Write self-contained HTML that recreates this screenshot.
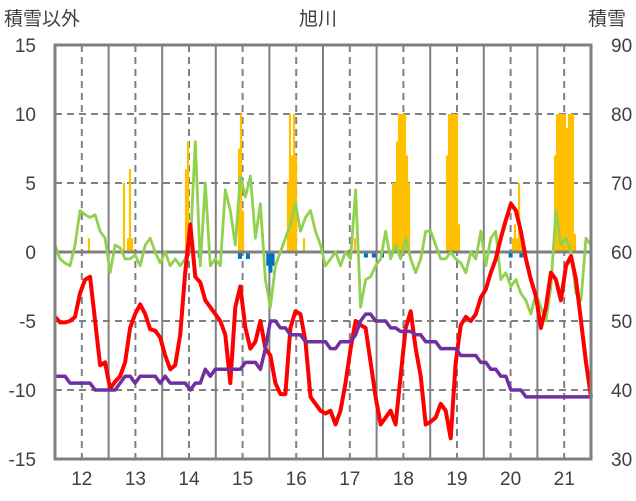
<!DOCTYPE html>
<html><head><meta charset="utf-8"><style>
body{margin:0;background:#fff}
svg{display:block;font-family:"Liberation Sans","Noto Sans CJK JP",sans-serif}
</style></head><body>
<svg id="c" width="636" height="501"></svg>
<script>
const dayLabels=["12","13","14","15","16","17","18","19","20","21"];
const leftTicks=[15,10,5,0,-5,-10,-15];
const rightTicks=[90,80,70,60,50,40,30];
const redV=[-4.7,-5.1,-5.1,-5.0,-4.7,-3,-2,-1.8,-5,-8.2,-8,-9.9,-9.4,-9,-8,-5.5,-4.5,-3.8,-4.5,-5.6,-5.7,-6.2,-7.5,-8.5,-8.2,-6,-1.5,2,-1.8,-2.2,-3.5,-4,-4.5,-5,-6,-9.5,-4,-2.5,-5.5,-7,-6.5,-5,-7,-7.5,-9.5,-10.3,-10.3,-5.5,-4.3,-4.5,-6.5,-10.5,-11,-11.5,-11.7,-11.5,-12.5,-11.5,-9.5,-7,-5,-5.3,-5.5,-8,-10.5,-12.5,-12,-11.5,-12.5,-9,-5.5,-4.3,-7,-9,-12.5,-12.3,-12,-11,-11.5,-13.5,-8,-5.3,-4.7,-5,-4.5,-3.3,-2.7,-1.5,-0.5,1,2.3,3.5,3,1.5,-0.5,-2,-3.2,-5.5,-4,-1.5,-2,-3.5,-1,-0.3,-2,-5,-8,-10.5];
const greenV=[0.5,-0.5,-0.8,-1,0.5,3,2.7,2.5,2.7,1.5,1,-1.5,0.5,0.3,-0.5,-0.5,-0.2,-1,0.5,1,0,-0.8,0,-1,-0.5,-1,-0.5,0.5,8,-1,5,-1,-0.5,-1,4.5,3,0.5,5.5,4,5.5,1,3.5,-2,-4,-1,0,1,2,3.5,1.5,2.5,3,1.5,0.5,-1,-0.5,0,-1,0,-0.5,4.5,-4,-2,-1.8,-1,-0.5,1.5,-0.5,0.5,-0.5,1,-0.5,-1.5,-0.5,1.5,1.5,0.5,-0.5,-0.5,0,-0.5,-0.8,-1.5,0,-0.5,1.5,-1,1,1.5,-2,-1.5,-2.5,-2,-3,-3.5,-4.5,-3,-4,-5,-2.5,3,0.5,1,0,-3,-3.5,1,0.5];
const purpleV=[42,42,42,41,41,41,41,41,40,40,40,40,40,41,42,42,41,42,42,42,42,41,42,41,41,41,41,40,41,41,43,42,43,43,43,43,43,43,44,44,44,43,46,50,50,49,49,48,48,48,47,47,47,47,47,46,46,47,47,47,48,50,51,51,50,50,50,49,49,48.5,48.5,48.5,48,48,47,47,47,46,46,46,46,45,45,45,45,44,44,43,43,42,42,40,40,40,39,39,39,39,39,39,39,39,39,39,39,39,39,39];
const orangeT=[12.134,12.787,12.862,12.899,12.937,13.944,13.981,14.019,14.933,14.970,15.008,15.847,15.884,15.922,15.959,15.996,16.146,17.097,17.806,17.843,17.881,17.918,17.955,17.993,18.030,18.067,18.105,18.814,18.851,18.888,18.926,18.963,19.000,19.037,20.045,20.082,20.120,20.157,20.194,20.829,20.866,20.903,20.940,20.978,21.015,21.052,21.090,21.127,21.164,21.201];
const orangeV=[1,5,1,6,1,6,8,1,7.5,10,3,5,10,7,10,7,1,1,5,5,8,10,10,10,10,7,5,7,10,10,10,10,10,2,1,2,1,5,1,7,10,10,10,10,10,9,10,10,10,1.3];
const blueT=[14.2,14.95,15.1,15.48,15.52,15.56,17.3,17.45,17.6,20.0,20.2];
const blueV=[-0.4,-0.5,-0.5,-1,-1.5,-1,-0.4,-0.4,-0.4,-0.4,-0.4];

const L=55,R=591,T=45,B=459;
const t0=11.5,t1=21.5;
const xs=t=>L+(t-t0)/(t1-t0)*(R-L);
const yl=v=>B-(v+15)/30*(B-T);
const yr=v=>B-(v-30)/60*(B-T);
const step=(t1-t0)/107;
const ns="http://www.w3.org/2000/svg";
const svg=document.getElementById('c');
function mk(tag,at,parent){const e=document.createElementNS(ns,tag);for(const k in at)e.setAttribute(k,at[k]);(parent||svg).appendChild(e);return e;}
// grid
for(let i=0;i<leftTicks.length;i++){const v=leftTicks[i];if(v===15||v===-15||v===0)continue;
 const g=mk('line',{x1:L,x2:R,y1:yl(v),y2:yl(v),stroke:'#808080','stroke-width':2,'stroke-dasharray':'7,5'});
 
 }
for(let d=0;d<=10;d++){const x=xs(t0+d);
 const g=mk('line',{x1:x,x2:x,y1:T,y2:B,stroke:'#808080','stroke-width':2});
 
 
 if(d<10){const m=mk('line',{x1:x+(R-L)/20,x2:x+(R-L)/20,y1:T,y2:B,stroke:'#808080','stroke-width':2,'stroke-dasharray':'7,5'});
 
 }}
// bars
const bw=2.2;
orangeT.forEach((t,i)=>{const r=mk('rect',{x:xs(t)-bw/2,y:yl(orangeV[i]),width:bw,height:yl(0)-yl(orangeV[i]),fill:'#ffc000'});
 
 });
blueT.forEach((t,i)=>{const r=mk('rect',{x:xs(t)-2,y:yl(0),width:4,height:yl(blueV[i])-yl(0),fill:'#0070c0'});
 
 });
const z=mk('line',{x1:L,x2:R,y1:yl(0),y2:yl(0),stroke:'#808080','stroke-width':3});


function line(arr,yf,color,w,name){const p=arr.map((v,i)=>xs(t0+i*step).toFixed(1)+','+yf(v).toFixed(1)).join(' ');
 const e=mk('polyline',{points:p,fill:'none',stroke:color,'stroke-width':w,'stroke-linejoin':'round'});
 
 }
line(greenV,yl,'#92d050',2.8,'green-series');
line(redV,yl,'#ff0000',4,'red-series');
line(purpleV,yr,'#7030a0',3.5,'snow-depth-series');
const bd=mk('rect',{x:L,y:T,width:R-L,height:B-T,fill:'none',stroke:'#808080','stroke-width':3});


// labels
leftTicks.forEach(v=>{const t=mk('text',{x:36,y:yl(v)+7,'text-anchor':'end','font-size':19,fill:'#404040'});t.textContent=v;
 
 });
rightTicks.forEach(v=>{const t=mk('text',{x:611,y:yr(v)+7,'font-size':19,fill:'#404040'});t.textContent=v;
 
 });
dayLabels.forEach((s,i)=>{const t=mk('text',{x:xs(t0+i+0.5),y:485,'text-anchor':'middle','font-size':19,fill:'#404040'});t.textContent=s;
 
 });
const tt=mk('text',{x:318,y:25,'text-anchor':'middle','font-size':19,fill:'#404040'});tt.textContent='旭川';


const lt=mk('text',{x:4,y:25,'font-size':19,fill:'#404040'});lt.textContent='積雪以外';


const rt=mk('text',{x:588,y:25,'font-size':19,fill:'#404040'});rt.textContent='積雪';


</script>
</body></html>
